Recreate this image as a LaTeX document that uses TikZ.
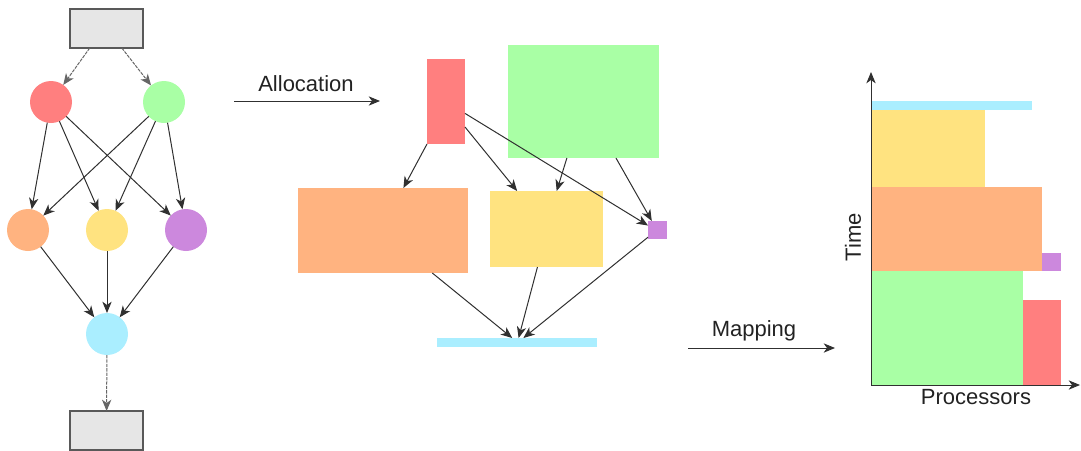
\documentclass[tikz,border=0pt]{standalone}
\usepackage{fontspec}
\setmainfont{Liberation Sans}
\usetikzlibrary{arrows.meta,calc}
\definecolor{cRed}{HTML}{FF7F7F}
\definecolor{cGreen}{HTML}{A9FFA5}
\definecolor{cOrange}{HTML}{FFB380}
\definecolor{cYellow}{HTML}{FFE380}
\definecolor{cPurple}{HTML}{CC88DD}
\definecolor{cCyan}{HTML}{AAEEFF}
\definecolor{cGray}{HTML}{E6E6E6}
\definecolor{cLine}{HTML}{303030}
\definecolor{cText}{HTML}{222222}
\begin{document}
\begin{tikzpicture}[x=0.75pt,y=-0.75pt,
  rbox/.style n args={3}{rectangle,inner sep=0pt,outer sep=0pt,draw=none,fill=#1,minimum width=#2*0.75pt,minimum height=#3*0.75pt},
  endbox/.style={rectangle,inner sep=0pt,outer sep=0pt,draw=black!65,line width=0.9pt,fill=cGray,minimum width=73*0.75pt,minimum height=39*0.75pt},
  task/.style={circle,inner sep=0pt,outer sep=0pt,draw=none,fill=#1,minimum size=42*0.75pt},
  conn/.style={draw=cLine,line width=0.75pt,-{Stealth[length=8.5pt,width=7pt,inset=2.5pt]}},
  dconn/.style={conn,draw=black!60,dash pattern=on 2.5pt off 0.8pt},
  lbl/.style={text=cText,font=\fontsize{16.5}{20}\selectfont,inner sep=0pt}
]
\useasboundingbox (0,0) rectangle (1081,450);

% ---------- left: task graph ----------
\node[endbox] (T) at (106.5,28.5) {};
\node[endbox] (B) at (106.5,430.5) {};
\node[task=cRed] (n1) at (51,102) {};
\node[task=cGreen] (n2) at (164,102) {};
\node[task=cOrange] (n3) at (28,230) {};
\node[task=cYellow] (n4) at (107,230) {};
\node[task=cPurple] (n5) at (186,230) {};
\node[task=cCyan] (n6) at (107,334) {};

\draw[dconn] ($(T.south west)!0.27!(T.south east)$) -- (n1);
\draw[dconn] ($(T.south west)!0.71!(T.south east)$) -- (n2);
\draw[conn] (n1) -- (n3);
\draw[conn] (n1) -- (n4);
\draw[conn] (n1) -- (n5);
\draw[conn] (n2) -- (n3);
\draw[conn] (n2) -- (n4);
\draw[conn] (n2) -- (n5);
\draw[conn] (n3) -- (n6);
\draw[conn] (n4) -- (n6);
\draw[conn] (n5) -- (n6);
\draw[dconn] (n6) -- (B);

% ---------- allocation arrow ----------
\coordinate (a1) at (234,101);
\coordinate (a2) at (380,101);
\draw[conn] (a1) -- (a2);
\node[lbl] (alab) at (306,84) {Allocation};

% ---------- middle: allocated tasks ----------
\node[rbox={cRed}{38}{85}] (R) at (446,101.5) {};
\node[rbox={cGreen}{151}{113}] (G) at (583.5,101.5) {};
\node[rbox={cOrange}{170}{85}] (O) at (383,230.5) {};
\node[rbox={cYellow}{113}{76}] (Y) at (546.5,229) {};
\node[rbox={cPurple}{19}{18}] (P) at (657.5,230) {};
\node[rbox={cCyan}{160}{9}] (C) at (517,342.5) {};

\draw[conn] (R.south west) -- ($(O.north west)!0.62!(O.north east)$);
\draw[conn] ($(R.north east)!0.8!(R.south east)$) -- ($(Y.north west)!0.24!(Y.north east)$);
\draw[conn] ($(R.north east)!0.64!(R.south east)$) -- ($(P.north west)!0.25!(P.south west)$);
\draw[conn] ($(G.south west)!0.39!(G.south east)$) -- ($(Y.north west)!0.59!(Y.north east)$);
\draw[conn] ($(G.south west)!0.715!(G.south east)$) -- ($(P.north west)!0.2!(P.north east)$);
\draw[conn] ($(O.south west)!0.79!(O.south east)$) -- ($(C.north west)!0.47!(C.north east)$);
\draw[conn] ($(Y.south west)!0.42!(Y.south east)$) -- ($(C.north west)!0.51!(C.north east)$);
\draw[conn] ($(P.north west)!0.9!(P.south west)$) -- ($(C.north west)!0.54!(C.north east)$);

% ---------- mapping arrow ----------
\coordinate (m1) at (688,348);
\coordinate (m2) at (835,348);
\draw[conn] (m1) -- (m2);
\node[lbl] (mlab) at (754,331) {Mapping};

% ---------- right: schedule ----------
\node[rbox={cCyan}{161}{9}] (sC) at (951.5,105.5) {};
\node[rbox={cYellow}{114}{77}] (sY) at (928,148.5) {};
\node[rbox={cOrange}{171}{84}] (sO) at (956.5,229) {};
\node[rbox={cPurple}{19}{18}] (sP) at (1051.5,262) {};
\node[rbox={cGreen}{152}{114}] (sG) at (947,328) {};
\node[rbox={cRed}{38}{85}] (sR) at (1042,342.5) {};

\coordinate (o) at (871,385);
\coordinate (ytop) at (871,72);
\coordinate (xend) at (1080,385);
\draw[conn] (o) -- (ytop);
\draw[conn] (o) -- (xend);
\node[lbl,rotate=90] (tlab) at (853,237) {Time};
\node[lbl] (plab) at (976,397) {Processors};
\end{tikzpicture}
\end{document}
